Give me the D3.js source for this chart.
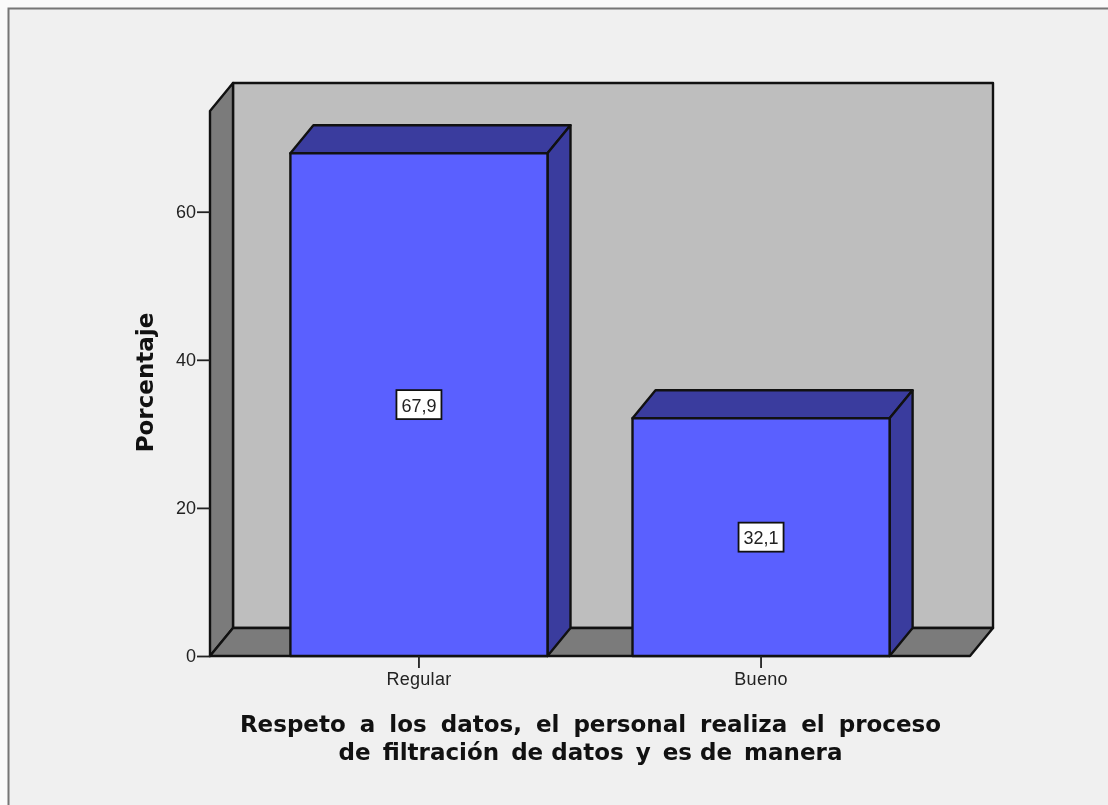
<!DOCTYPE html>
<html><head><meta charset="utf-8">
<script src="https://cdn.jsdelivr.net/npm/d3@7/dist/d3.min.js"></script>
<style>
html,body{margin:0;padding:0;background:#fbfbfb}
svg{display:block;filter:blur(0.45px)}
text{font-family:"Liberation Sans",Arial,sans-serif}
</style></head><body>
<svg id="c" width="1108" height="805"></svg>
<script>
const categories = ["Regular","Bueno"];
const values = [67.9,32.1];
const valueLabels = ["67,9","32,1"];
const yTicks = [0,20,40,60];
const yTitle = "Porcentaje";
const xTitleLines = ["Respeto a los datos, el personal realiza el proceso","de filtración de datos y es de manera"];
const xTitleGaps = [[6,6,6,6,6,6,6,6],[4,4,0,4,4,0,4]];

const svg = d3.select("#c");
const W=1108,H=805;
const ink="#111";
svg.append("rect").attr("x",8.5).attr("y",8.5).attr("width",W+20).attr("height",H+20).attr("fill","#f0f0f0").attr("stroke","#777").attr("stroke-width",2);

const x0=210,x1=970,dx=23,dy=-28;
const y=d3.scaleLinear().domain([0,73.6]).range([656,111]);
const x=d3.scaleBand().domain(categories).range([x0,x1]).paddingInner(0.2485).paddingOuter(0.235);
const poly=(pts,fill)=>svg.append("polygon").attr("points",pts.map(p=>p.join(",")).join(" "))
  .attr("fill",fill).attr("stroke",ink).attr("stroke-width",2.4).attr("stroke-linejoin","round");

const yTop=y.range()[1], yBase=y(0);
poly([[x0+dx,yTop+dy],[x1+dx,yTop+dy],[x1+dx,yBase+dy],[x0+dx,yBase+dy]],"#bebebe");
poly([[x0,yTop],[x0+dx,yTop+dy],[x0+dx,yBase+dy],[x0,yBase]],"#7b7b7b");
poly([[x0,yBase],[x0+dx,yBase+dy],[x1+dx,yBase+dy],[x1,yBase]],"#7b7b7b");

categories.forEach((c,i)=>{
  const l=x(c),r=l+x.bandwidth(),t=y(values[i]);
  poly([[l,t],[l+dx,t+dy],[r+dx,t+dy],[r,t]],"#3a3c9e");
  poly([[r,t],[r+dx,t+dy],[r+dx,yBase+dy],[r,yBase]],"#3a3c9e");
  poly([[l,t],[r,t],[r,yBase],[l,yBase]],"#5a60ff");
  const cx=(l+r)/2, cy=y(values[i]/2);
  svg.append("rect").attr("x",cx-22.5).attr("y",cy-14.5).attr("width",45).attr("height",29)
    .attr("fill","#fff").attr("stroke",ink).attr("stroke-width",1.8);
  svg.append("text").attr("x",cx).attr("y",cy+7).attr("text-anchor","middle")
    .attr("font-size",18).attr("fill","#222").text(valueLabels[i]);
});

const yAxis=svg.append("g").attr("transform",`translate(${x0},0)`).call(d3.axisLeft(y).tickValues(yTicks).tickSize(13).tickPadding(1).tickFormat(d3.format("d")));
yAxis.select(".domain").remove();
yAxis.selectAll("line").attr("stroke","#222").attr("stroke-width",1.8);
yAxis.selectAll("text").attr("font-size",18).attr("fill","#222");
const xAxis=svg.append("g").attr("transform",`translate(0,${yBase})`).call(d3.axisBottom(x).tickSize(12).tickPadding(4));
xAxis.select(".domain").remove();
xAxis.selectAll("line").attr("stroke","#222").attr("stroke-width",1.8);
xAxis.selectAll("text").attr("font-size",18).attr("fill","#222").attr("letter-spacing",0.3);

svg.append("text").attr("transform","translate(152.5,382.5) rotate(-90)").attr("text-anchor","middle")
  .style("font-family",'"DejaVu Sans",sans-serif')
  .attr("font-size",23).attr("font-weight","bold").attr("fill","#111").text(yTitle);

xTitleLines.forEach((t,i)=>{
  const line=svg.append("text").attr("x",590.5).attr("y",731.5+i*28.5).attr("text-anchor","middle")
    .style("font-family",'"DejaVu Sans",sans-serif')
    .attr("font-size",23).attr("font-weight","bold").attr("fill","#111");
  t.split(" ").forEach((w,j,a)=>{
    line.append("tspan").attr("dx",j?xTitleGaps[i][j-1]:0).text(w+(j<a.length-1?" ":""));
  });
});
</script></body></html>
